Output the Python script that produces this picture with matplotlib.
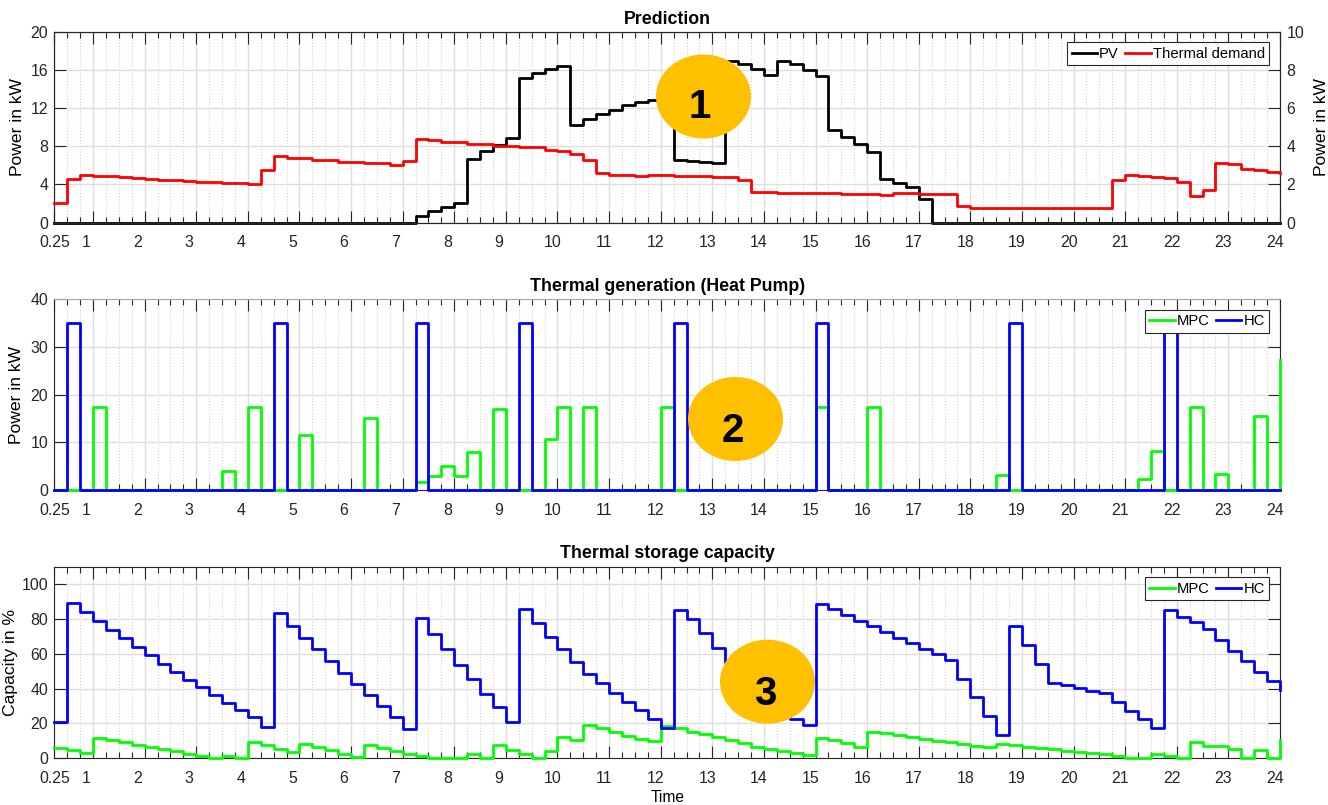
import numpy as np
import matplotlib
matplotlib.use('Agg')
import matplotlib.pyplot as plt
from matplotlib.patches import Ellipse
from matplotlib.transforms import ScaledTranslation

plt.rcParams['font.family'] = ['Liberation Sans', 'DejaVu Sans']

# Quarter-hour time steps (0.25 h ... 24 h), one value per step
hours = np.arange(0.25, 24.01, 0.25)
xtick_pos = [0.25] + list(range(1, 25))
xtick_labels = ['0.25'] + [str(h) for h in range(1, 25)]

# Prediction: PV (left axis) and thermal demand (right axis), kW
pv_kw = [
    0, 0, 0, 0, 0, 0, 0, 0, 0, 0, 0, 0,
    0, 0, 0, 0, 0, 0, 0, 0, 0, 0, 0, 0,
    0, 0, 0, 0, 0.7, 1.25, 1.6, 2.1, 6.65, 7.5, 8.15, 8.9,
    15.2, 15.7, 16.05, 16.4, 10.25, 10.85, 11.35, 11.85, 12.3, 12.6, 12.85, 13.1,
    6.55, 6.5, 6.4, 6.3, 16.95, 16.6, 16.1, 15.5, 16.95, 16.6, 16.0, 15.35,
    9.7, 9.0, 8.2, 7.45, 4.55, 4.2, 3.75, 2.45, 0, 0, 0, 0,
    0, 0, 0, 0, 0, 0, 0, 0, 0, 0, 0, 0,
    0, 0, 0, 0, 0, 0, 0, 0, 0, 0, 0, 0,
]
thermal_demand_kw = [
    1.05, 2.28, 2.5, 2.47, 2.43, 2.4, 2.33, 2.3, 2.25, 2.22, 2.18, 2.15,
    2.12, 2.1, 2.07, 2.05, 2.75, 3.5, 3.4, 3.37, 3.3, 3.27, 3.2, 3.17,
    3.12, 3.1, 3.02, 3.25, 4.4, 4.35, 4.22, 4.22, 4.1, 4.1, 4.02, 4.02,
    3.95, 3.95, 3.8, 3.78, 3.62, 3.28, 2.58, 2.52, 2.5, 2.45, 2.5, 2.5,
    2.45, 2.45, 2.42, 2.4, 2.4, 2.25, 1.62, 1.62, 1.58, 1.58, 1.55, 1.58,
    1.58, 1.52, 1.52, 1.5, 1.45, 1.55, 1.55, 1.52, 1.52, 1.52, 0.9, 0.78,
    0.76, 0.76, 0.76, 0.76, 0.75, 0.75, 0.75, 0.75, 0.75, 0.75, 2.25, 2.52,
    2.45, 2.4, 2.35, 2.15, 1.4, 1.7, 3.1, 3.05, 2.82, 2.78, 2.65, 2.62,
]

# Heat pump thermal generation, kW
gen_mpc = [
    0, 0, 0, 17.5, 0, 0, 0, 0, 0, 0, 0, 0,
    0, 4.1, 0, 17.5, 0, 0, 0, 11.6, 0, 0, 0, 0,
    15.1, 0, 0, 0, 1.75, 3.0, 5.15, 3.05, 8.1, 0, 17.1, 0,
    0, 0, 10.75, 17.5, 0, 17.5, 0, 0, 0, 0, 0, 17.5,
    0, 0, 0, 0, 0, 0, 0, 0, 0, 0, 0, 17.5,
    0, 0, 0, 17.5, 0, 0, 0, 0, 0, 0, 0, 0,
    0, 3.1, 0, 0, 0, 0, 0, 0, 0, 0, 0, 0,
    2.4, 8.3, 0, 0, 17.5, 0, 3.4, 0, 0, 15.6, 0, 27.2,
]
gen_hc = [
    0, 35, 0, 0, 0, 0, 0, 0, 0, 0, 0, 0,
    0, 0, 0, 0, 0, 35, 0, 0, 0, 0, 0, 0,
    0, 0, 0, 0, 35, 0, 0, 0, 0, 0, 0, 0,
    35, 0, 0, 0, 0, 0, 0, 0, 0, 0, 0, 0,
    35, 0, 0, 0, 0, 0, 0, 0, 0, 0, 0, 35,
    0, 0, 0, 0, 0, 0, 0, 0, 0, 0, 0, 0,
    0, 0, 35, 0, 0, 0, 0, 0, 0, 0, 0, 0,
    0, 0, 35, 0, 0, 0, 0, 0, 0, 0, 0, 0,
]

# Thermal storage state of charge, %
soc_mpc = [
    5.9, 4.6, 3.3, 11.9, 10.5, 9.2, 7.9, 6.5, 5.2, 4.0, 2.7, 1.3,
    0.0, 1.1, 0.0, 9.2, 7.9, 5.6, 3.6, 8.4, 6.5, 4.6, 2.7, 0.8,
    7.9, 5.9, 4.2, 2.5, 1.5, 0.0, 0.4, 0.0, 2.5, 0.0, 7.6, 4.6,
    2.5, 0.0, 4.4, 12.4, 10.5, 19.0, 17.2, 14.9, 12.6, 11.1, 9.8, 18.6,
    17.2, 15.2, 13.9, 12.3, 10.5, 8.6, 6.7, 5.6, 4.4, 3.3, 1.7, 11.7,
    10.5, 8.6, 6.7, 15.3, 14.4, 13.4, 12.1, 10.9, 10.0, 9.2, 8.4, 7.3,
    6.7, 8.0, 7.5, 6.5, 5.9, 5.2, 4.2, 3.6, 3.1, 2.5, 1.3, 0.0,
    0.0, 2.7, 1.3, 0.0, 9.6, 6.9, 7.1, 5.2, 0.0, 5.0, 0.0, 10.5,
]
soc_hc = [
    20.7, 89.1, 83.9, 78.9, 73.8, 68.8, 64.0, 59.2, 54.4, 49.6, 45.2, 41.0,
    36.4, 32.0, 27.8, 23.6, 17.8, 83.5, 76.2, 69.3, 62.6, 55.7, 49.0, 42.7,
    36.2, 30.1, 23.6, 16.7, 80.3, 71.4, 62.6, 53.8, 45.6, 37.2, 29.2, 20.7,
    85.6, 77.6, 69.9, 62.6, 55.2, 48.3, 43.1, 37.7, 32.4, 27.6, 22.4, 17.2,
    85.1, 80.0, 72.1, 63.6, 55.5, 48.9, 42.3, 35.7, 29.1, 22.6, 19.1, 88.8,
    85.5, 82.0, 78.9, 75.7, 72.6, 69.3, 66.1, 63.0, 59.8, 56.7, 45.4, 35.2,
    24.3, 13.6, 75.7, 64.8, 54.4, 43.5, 42.0, 40.6, 38.9, 37.4, 32.6, 27.4,
    22.4, 17.4, 85.2, 81.0, 78.4, 74.5, 68.2, 61.5, 55.6, 49.8, 44.3, 39.3,
]

W, H = 1328, 805
fig = plt.figure(figsize=(W / 100, H / 100), dpi=100)


def add_axes_px(left, top, right, bottom):
    return fig.add_axes([left / W, 1 - bottom / H, (right - left) / W, (bottom - top) / H])


def style_axes(ax, right_ticks=True):
    ax.set_xlim(0.25, 24)
    ax.set_xticks(xtick_pos)
    ax.set_xticklabels(xtick_labels)
    ax.set_xticks(hours, minor=True)
    ax.tick_params(which='both', direction='in', top=True, right=right_ticks,
                   colors='#262626', labelsize=11.4)
    ax.tick_params(which='major', length=8.5, width=0.8)
    ax.tick_params(which='minor', length=4.3, width=0.8)
    ax.tick_params(axis='x', which='major', pad=9)
    ax.tick_params(axis='y', pad=4.5)
    ax.grid(which='major', color='#dedede', linewidth=1.0)
    ax.grid(which='minor', axis='x', color='#d2d2d2', linestyle=':', linewidth=0.8)
    ax.set_axisbelow(True)
    for s in ax.spines.values():
        s.set_color('#262626')
        s.set_linewidth(0.8)
    # hour labels sit a few pixels left of their ticks
    for tick, lab in zip(ax.xaxis.get_major_ticks(), xtick_labels):
        dx = 0 if lab == '0.25' else (-7 if len(lab) == 1 else -5)
        tick.label1.set_transform(tick.label1.get_transform()
                                  + ScaledTranslation(dx / 100, 0, fig.dpi_scale_trans))


def add_legend(ax, handles):
    leg = ax.legend(handles=handles, loc='upper right', ncol=2, fontsize=10.6,
                    handlelength=1.7, handletextpad=0.15, columnspacing=0.45,
                    borderpad=0.3, borderaxespad=0.73, fancybox=False,
                    framealpha=1, edgecolor='#262626')
    leg.get_frame().set_linewidth(0.8)
    return leg


# --- Prediction ---
ax1 = add_axes_px(54.3, 31.7, 1280, 222.7)
ax1r = ax1.twinx()
style_axes(ax1, right_ticks=False)
h_pv, = ax1.step(hours, pv_kw, where='post', color='k', lw=2, label='PV',
                 clip_on=False, zorder=3)
h_td, = ax1r.step(hours, thermal_demand_kw, where='post', color='#ff0000', lw=2,
                  label='Thermal demand', clip_on=False, zorder=3)
ax1.set_ylim(0, 20)
ax1.set_yticks([0, 4, 8, 12, 16, 20])
ax1r.set_ylim(0, 10)
ax1r.set_yticks(range(0, 11, 2))
ax1r.tick_params(axis='y', direction='in', length=8.5, width=0.8,
                 colors='#262626', labelsize=11.4, pad=4.8)
for s in ax1r.spines.values():
    s.set_color('#262626')
    s.set_linewidth(0.8)
ax1.set_title('Prediction', fontweight='bold', fontsize=12.8, pad=5.5)
ax1.set_ylabel('Power in kW', fontsize=12.6)
ax1.yaxis.set_label_coords(-0.0235, 0.5)
ax1r.set_ylabel('Power in kW', fontsize=12.6)
ax1r.yaxis.set_label_coords(1.028, 0.5)
add_legend(ax1r, [h_pv, h_td])

# --- Thermal generation ---
ax2 = add_axes_px(54.3, 299, 1280, 490.3)
style_axes(ax2)
h1, = ax2.step(hours, gen_mpc, where='post', color='#00ff00', lw=2, label='MPC',
               clip_on=False, zorder=3)
h2, = ax2.step(hours, gen_hc, where='post', color='#0000ff', lw=2, label='HC',
               clip_on=False, zorder=3)
ax2.set_ylim(0, 40)
ax2.set_yticks(range(0, 41, 10))
ax2.spines['top'].set_color('#a8a8a8')
ax2.set_title('Thermal generation (Heat Pump)', fontweight='bold', fontsize=12.8, pad=6)
ax2.set_ylabel('Power in kW', fontsize=12.6)
ax2.yaxis.set_label_coords(-0.0245, 0.5)
add_legend(ax2, [h1, h2])

# --- Thermal storage ---
ax3 = add_axes_px(54.3, 566.7, 1280, 758.3)
style_axes(ax3)
h1, = ax3.step(hours, soc_mpc, where='post', color='#00ff00', lw=2, label='MPC',
               clip_on=False, zorder=3)
h2, = ax3.step(hours, soc_hc, where='post', color='#0000ff', lw=2, label='HC',
               clip_on=False, zorder=3)
ax3.set_ylim(0, 110)
ax3.set_yticks(range(0, 101, 20))
ax3.set_title('Thermal storage capacity', fontweight='bold', fontsize=12.8, pad=6.5)
ax3.set_ylabel('Capacity in %', fontsize=12.6)
ax3.yaxis.set_label_coords(-0.0295, 0.5)
ax3.set_xlabel('Time', fontsize=11.2)
ax3.xaxis.set_label_coords(0.5, -0.165)
add_legend(ax3, [h1, h2])

# numbered markers
markers = [('1', 703.5, 96.5, 700, 118.3),
           ('2', 735.5, 419, 733, 441.7),
           ('3', 767.5, 681.7, 765, 705)]
for label, cx, cy, tx, ty in markers:
    fig.add_artist(Ellipse((cx / W, 1 - cy / H), 95 / W, 84 / H,
                           transform=fig.transFigure, facecolor='#ffc000',
                           edgecolor='none', zorder=10))
    fig.text(tx / W, 1 - ty / H, label, fontsize=29, fontweight='bold',
             ha='center', va='baseline', color='k', zorder=11)

fig.savefig('out.png', dpi=100)
